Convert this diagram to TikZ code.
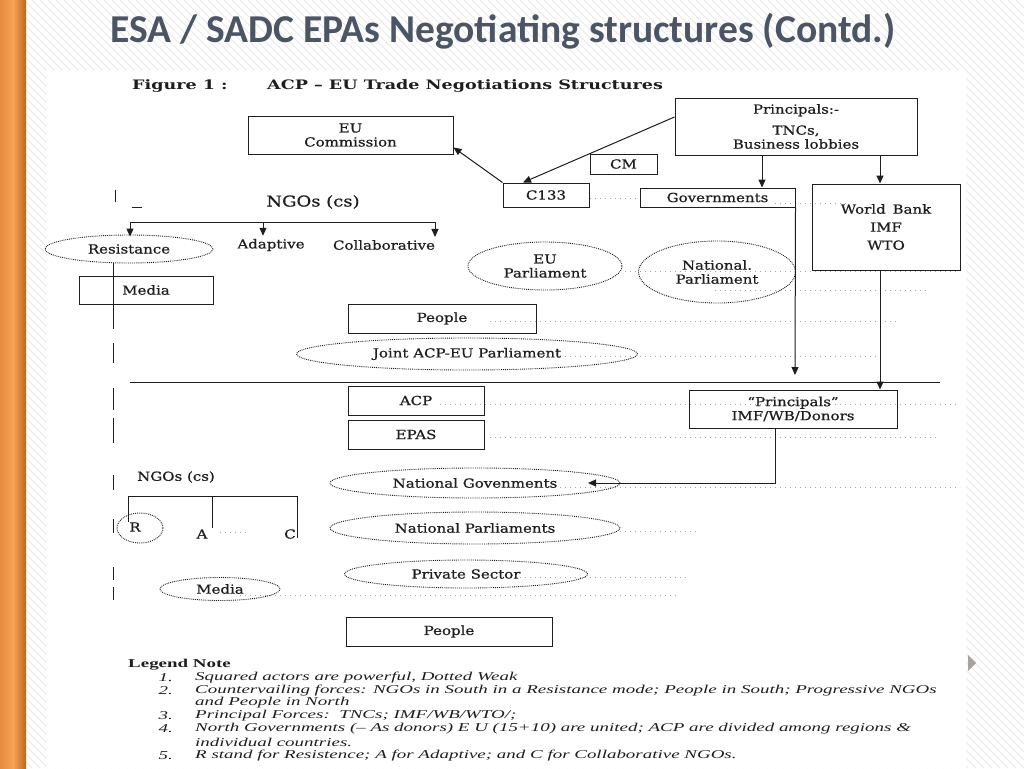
\documentclass[tikz,border=0pt]{standalone}
\usepackage{fontspec}
\setmainfont{DejaVu Serif}
\newfontfamily\titlefont{Carlito}
\newfontfamily\figfont[FakeStretch=1.2,FakeBold=0.7]{DejaVu Serif}
\newfontfamily\headfont[FakeStretch=1.35]{DejaVu Serif}
\newfontfamily\legfont[FakeStretch=1.58]{Liberation Serif}
\usetikzlibrary{arrows.meta,shapes.geometric}
\definecolor{titlecol}{HTML}{4B5566}
\definecolor{orL}{HTML}{E58A3F}
\definecolor{orM}{HTML}{F6A457}
\definecolor{orR}{HTML}{BE6420}
\definecolor{hatchc}{HTML}{E9E9E9}
\definecolor{ink}{HTML}{1E1E1E}
\definecolor{tri}{HTML}{A9A39D}
\begin{document}
\begin{tikzpicture}[x=1pt,y=-1pt,
  ff/.style={font=\figfont\fontsize{12.5}{14}\selectfont, text=ink},
  box/.style={ff, draw=ink, line width=1pt, rectangle, inner sep=0pt, align=center},
  weak/.style={ff, draw=ink, densely dotted, line width=0.9pt, ellipse, inner sep=0pt, align=center},
  lab/.style={ff, inner sep=0pt},
  con/.style={draw=ink, line width=1pt},
  arr/.style={con, -{Triangle[length=8pt,width=7pt]}},
  guide/.style={draw=black!35, dash pattern=on 1pt off 4pt, line width=0.7pt},
  leg/.style={font=\legfont\itshape\fontsize{12}{13}\selectfont, text=ink, anchor=west, inner sep=0pt},
  legn/.style={font=\legfont\itshape\fontsize{12}{13}\selectfont, text=ink, anchor=east, inner sep=0pt}
]
\useasboundingbox (0,0) rectangle (1024,768);
% slide background
\fill[white] (0,0) rectangle (1024,768);
\begin{scope}
\clip (0,0) rectangle (1024,768);
\foreach \i in {-776,-768,...,1024} \draw[hatchc, line width=1pt] (\i,0) -- ++(768,768);
\end{scope}
\shade[left color=orL, right color=orR, middle color=orM] (0,0) rectangle (26,768);
\fill[white] (47,70) rectangle (966,768);
\fill[tri] (968,655) -- (976,663) -- (968,671) -- cycle;
% title
\node[font=\titlefont\bfseries\fontsize{39.5}{44}\selectfont, text=titlecol] (title) at (503,31) {ESA / SADC EPAs Negotiating structures (Contd.)};
% figure header
\node[font=\headfont\bfseries\fontsize{13}{15}\selectfont, text=ink, anchor=west, inner sep=0pt] (figno) at (132,86) {Figure 1 :};
\node[font=\headfont\bfseries\fontsize{13}{15}\selectfont, text=ink, anchor=west, inner sep=0pt] (figtitle) at (267,86) {ACP – EU Trade Negotiations Structures};
% faint guide dots
\foreach \ya/\xa/\xb in {198/590/640, 203/775/850, 271/625/960, 290/715/930, 321/490/900, 356/560/880, 404/440/960, 437/490/940, 487/560/960, 531/620/700, 532/220/250, 577/520/690, 595/240/680}
  \draw[guide] (\xa,\ya) -- (\xb,\ya);
% squared actors
\node[box, minimum width=205pt, minimum height=38pt] (euc) at (350.5,135) {EU\\Commission};
\node[box, minimum width=242pt, minimum height=57pt] (prin) at (796,126.5) {Principals:-\\[7pt]TNCs,\\Business lobbies};
\node[box, minimum width=67pt, minimum height=20pt] (cm) at (623.5,164) {CM};
\node[box, minimum width=86pt, minimum height=24pt] (c133) at (546,195) {C133};
\node[box, minimum width=155pt, minimum height=19pt] (gov) at (717.5,197.5) {Governments};
\node[box, minimum width=148pt, minimum height=86pt] (wb) at (886,227) {World\, Bank\\[4pt]IMF\\[4pt]WTO};
\node[box, minimum width=134pt, minimum height=28pt] (media1) at (146,290) {Media};
\node[box, minimum width=188pt, minimum height=29pt] (people1) at (442,318.5) {People};
\node[box, minimum width=136pt, minimum height=29pt] (acp) at (416,400.5) {ACP};
\node[box, minimum width=136pt, minimum height=29pt] (epas) at (416,434.5) {EPAS};
\node[box, minimum width=208pt, minimum height=38pt] (imf) at (793,409) {“Principals”\\IMF/WB/Donors};
\node[box, minimum width=206pt, minimum height=29pt] (people2) at (449,631.5) {People};
% dotted (weak) actors
\node[weak, minimum width=168pt, minimum height=28pt] (resist) at (129,249) {Resistance};
\node[weak, minimum width=154pt, minimum height=48pt] (eupar) at (545,266) {EU\\Parliament};
\node[weak, minimum width=157pt, minimum height=62pt] (natpar) at (717,272) {National.\\Parliament};
\node[weak, minimum width=341pt, minimum height=32pt] (joint) at (467,354) {Joint ACP-EU Parliament};
\node[weak, minimum width=290pt, minimum height=30pt] (natgov) at (475,483) {National Govenments};
\node[weak, minimum width=290pt, minimum height=32pt] (natpars) at (475,528) {National Parliaments};
\node[weak, minimum width=243pt, minimum height=28pt] (priv) at (466,574) {Private Sector};
\node[weak, minimum width=120pt, minimum height=23pt] (media2) at (220,589) {Media};
\node[weak, minimum width=46pt, minimum height=30pt] (rc) at (140,528) {};
% labels
\node[lab, font=\figfont\fontsize{15}{17}\selectfont] (ngo1) at (313,202) {NGOs (cs)};
\node[lab] (adapt) at (271,245) {Adaptive};
\node[lab] (collab) at (384,245) {Collaborative};
\node[lab] (ngo2) at (176,477) {NGOs (cs)};
\node[lab] (lr) at (135,527) {R};
\node[lab] (la) at (202,534) {A};
\node[lab] (lc) at (290,534) {C};
% NGO split (top)
\coordinate (t1) at (130,222);
\coordinate (t2) at (263,222);
\coordinate (t3) at (435,222);
\draw[con] (t1) -- (t3);
\draw[arr] (t1) -- ([yshift=-2pt]t1 |- resist.north);
\draw[arr] (t2) -- ([yshift=3pt]t2 |- adapt.north);
\draw[arr] (t3) -- ([yshift=3pt]t3 |- collab.north);
% principals arrows
\coordinate (pg) at (762,155);
\coordinate (pw) at (880,155);
\draw[arr] (pg) -- (pg |- gov.north);
\draw[arr] (pw) -- (pw |- wb.north);
\draw[arr] ([yshift=9.5pt]prin.west) -- ([xshift=-23pt]c133.north);
\draw[arr] (c133.north west) -- ([yshift=7pt]euc.south east);
% down to the south
\coordinate (gd) at (795,375);
\draw[arr] (gov.south east) -- (gd);
\coordinate (wbb) at (880,270);
\draw[arr] (wbb) -- (wbb |- imf.north);
\coordinate (ib) at (775,428);
\coordinate (ngt) at (588,483);
\draw[arr] (ib) |- (ngt);
% divider
\coordinate (dL) at (130,382);
\coordinate (dR) at (940,382);
\draw[con] (dL) -- (dR);
% NGO split (bottom)
\coordinate (b1) at (128,496);
\coordinate (b2) at (212,496);
\coordinate (b3) at (297,496);
\draw[con] (b1) -- (b3);
\draw[con] (b1) -- ++(0,26);
\draw[con] (b2) -- ++(0,32);
\draw[con] (b3) -- ++(0,42);
% left broken line
\draw[con] (113,263) -- (113,329);
\foreach \a/\b in {343/363, 388/410, 418/443, 475/490, 519/533, 567/580, 587/600}
  \draw[con] (113,\a) -- (113,\b);
\draw[con] (115,190) -- (115,202);
\draw[con, line width=0.8pt] (132,207) -- (142,207);
% legend
\node[font=\legfont\bfseries\fontsize{12}{13}\selectfont, text=ink, anchor=west, inner sep=0pt] (legh) at (128,665) {Legend Note};
\node[legn] (n1) at (173,678) {1.};
\node[leg] (l1) at (195,678) {Squared actors are powerful, Dotted Weak};
\node[legn] (n2) at (173,691) {2.};
\node[leg] (l2) at (195,691) {Countervailing forces: NGOs in South in a Resistance mode; People in South; Progressive NGOs};
\node[leg] (l2b) at (195,703) {and People in North};
\node[legn] (n3) at (173,716) {3.};
\node[leg] (l3) at (195,716) {Principal Forces:\ \ TNCs; IMF/WB/WTO/;};
\node[legn] (n4) at (173,729) {4.};
\node[leg] (l4) at (195,729) {North Governments (– As donors) E U (15+10) are united; ACP are divided among regions \&};
\node[leg] (l4b) at (195,742) {individual countries.};
\node[legn] (n5) at (173,756) {5.};
\node[leg] (l5) at (195,756) {R stand for Resistence; A for Adaptive; and C for Collaborative NGOs.};
\end{tikzpicture}
\end{document}
